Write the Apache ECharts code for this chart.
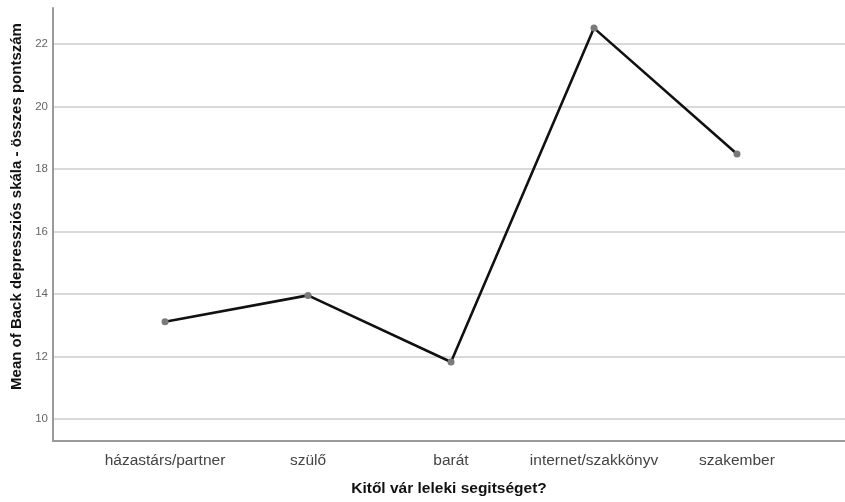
<!DOCTYPE html>
<html>
<head>
<meta charset="utf-8">
<script src="https://cdn.jsdelivr.net/npm/echarts@6/dist/echarts.min.js"></script>
<style>
  html, body { margin: 0; padding: 0; background: #fff; }
  #chart { width: 845px; height: 502px; }
</style>
</head>
<body>
<div id="chart"></div>
<script>
// Mean Beck depression score by source of emotional help
const categories = ['házastárs/partner', 'szülő', 'barát', 'internet/szakkönyv', 'szakember'];
const meanScores = [13.16, 14.0, 11.88, 22.51, 18.5];
const yTicks = [10, 12, 14, 16, 18, 20, 22];

const xTitle = 'Kitől vár leleki segitséget?';
const yTitle = 'Mean of Back depressziós skála - összes pontszám';

const Y_MIN = 9.3, Y_MAX = 23.15;
const font = 'Liberation Sans, Arial, sans-serif';

const chart = echarts.init(document.getElementById('chart'), null, { renderer: 'canvas' });
chart.setOption({
  animation: false,
  backgroundColor: '#ffffff',
  grid: [
    { left: 53, right: 0, top: 8, bottom: 59, containLabel: false },
    { left: 93.5, right: 36.5, top: 8, bottom: 59, containLabel: false }
  ],
  xAxis: [
    {
      gridIndex: 0, type: 'value', min: 0, max: 1,
      axisLine: { show: true, lineStyle: { color: '#9a9a9a', width: 2 } },
      axisTick: { show: false }, axisLabel: { show: false }, splitLine: { show: false },
      name: xTitle, nameLocation: 'middle', nameGap: 40,
      nameTextStyle: { fontFamily: font, fontSize: 15.5, fontWeight: 'bold', color: '#111' }
    },
    {
      gridIndex: 1, type: 'category', data: categories, boundaryGap: true,
      axisLine: { show: false }, axisTick: { show: false },
      axisLabel: { interval: 0, hideOverlap: false, margin: 10, fontFamily: font, fontSize: 15.5, color: '#444' }
    }
  ],
  yAxis: [
    {
      gridIndex: 0, type: 'value', min: Y_MIN, max: Y_MAX,
      axisLine: { show: true, lineStyle: { color: '#9a9a9a', width: 2 } },
      axisTick: { show: false, customValues: yTicks },
      axisLabel: { customValues: yTicks, margin: 5, fontFamily: font, fontSize: 11.5, color: '#666' },
      splitLine: { show: true, lineStyle: { color: '#d9d9d9', width: 2 } },
      name: yTitle, nameLocation: 'middle', nameGap: 29, nameRotate: 90,
      nameTextStyle: { fontFamily: font, fontSize: 15, fontWeight: 'bold', color: '#111', padding: [0, 0, 0, 36] }
    },
    {
      gridIndex: 1, type: 'value', min: Y_MIN, max: Y_MAX, show: false,
      splitLine: { show: false }
    }
  ],
  series: [
    {
      type: 'line', xAxisIndex: 1, yAxisIndex: 1,
      data: meanScores,
      symbol: 'circle', symbolSize: 7,
      itemStyle: { color: '#7a7a7a' },
      lineStyle: { color: '#111', width: 2.6 },
      z: 3
    }
  ]
});
</script>
</body>
</html>
